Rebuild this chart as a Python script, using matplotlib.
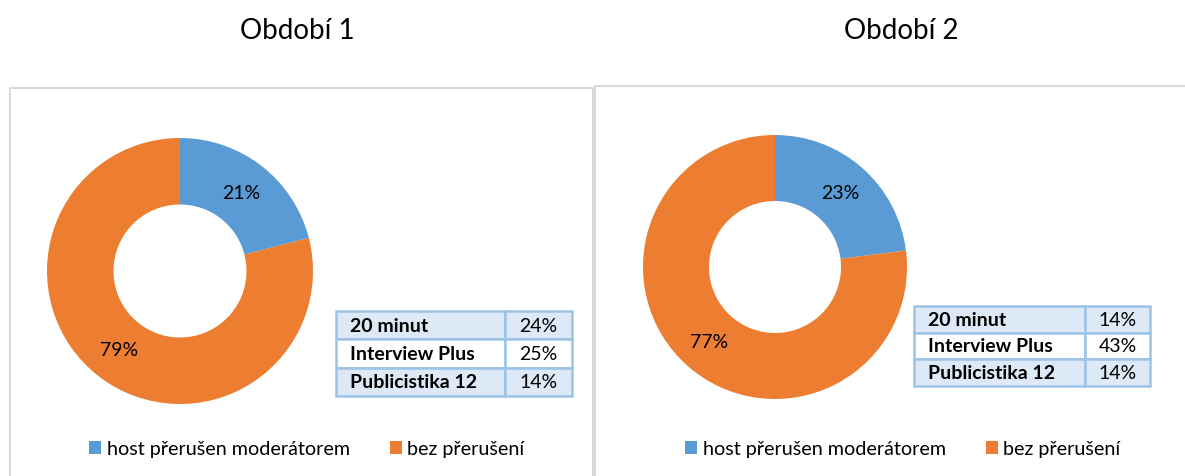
import matplotlib
matplotlib.use("Agg")
import matplotlib.pyplot as plt
from matplotlib.patches import Patch
from matplotlib.lines import Line2D

plt.rcParams['font.family'] = ['Lato', 'DejaVu Sans']

# ---- data ----
titles = ["Období 1", "Období 2"]
series_labels = ["host přerušen moderátorem", "bez přerušení"]
period1 = [21, 79]
period2 = [23, 77]
programs = ["20 minut", "Interview Plus", "Publicistika 12"]
table1 = ["24%", "25%", "14%"]
table2 = ["14%", "43%", "14%"]

colors = ["#5b9bd5", "#ed7d31"]
W, H = 1185, 477
fig = plt.figure(figsize=(W / 100, H / 100), dpi=100)

def fx(px):
    return px / W

def fy(py):
    return 1 - py / H

# overlay for frames and titles
ov = fig.add_axes([0, 0, 1, 1])
ov.set_xlim(0, W)
ov.set_ylim(H, 0)
ov.axis("off")
frame_c = "#d9d9d9"
ov.add_line(Line2D([10, 10, 593, 593], [H + 5, 89, 89, H + 5], color=frame_c, lw=1.5))
ov.add_line(Line2D([595, 595, W + 5], [H + 5, 87, 87], color=frame_c, lw=1.5))
ov.text(297, 31, titles[0], ha="center", va="center", fontsize=20, color="#000000")
ov.text(901, 31, titles[1], ha="center", va="center", fontsize=20, color="#000000")

def donut(cx, cy, r, vals):
    ax = fig.add_axes([fx(cx - r), fy(cy + r), fx(2 * r), (2 * r) / H])
    wedges, texts, autotexts = ax.pie(
        vals, colors=colors, startangle=90, counterclock=False, radius=1,
        wedgeprops=dict(width=0.5, edgecolor="none"),
        autopct="%1.0f%%", pctdistance=0.75,
        textprops=dict(fontsize=14, color="#000000"))
    ax.set_xlim(-1, 1)
    ax.set_ylim(-1, 1)
    ax.set_aspect("auto")
    ax.axis("off")
    return wedges

def make_table(x0, y0, x1, y1, xdiv, names, vals):
    ax = fig.add_axes([fx(x0), fy(y1), fx(x1 - x0), (y1 - y0) / H])
    ax.axis("off")
    cell_text = [[n, v] for n, v in zip(names, vals)]
    fills = ["#dde9f6", "#ffffff", "#dde9f6"]
    tb = ax.table(cellText=cell_text, bbox=[0, 0, 1, 1],
                  colWidths=[(xdiv - x0) / (x1 - x0), (x1 - xdiv) / (x1 - x0)])
    tb.auto_set_font_size(False)
    for (r, c), cell in tb.get_celld().items():
        cell.set_facecolor(fills[r])
        cell.set_edgecolor("#9dc3e6")
        cell.set_linewidth(1.8)
        cell.get_text().set_fontsize(14)
        if c == 0:
            cell.get_text().set_fontweight("bold")
            cell.get_text().set_ha("left")
            cell.PAD = 0.08
        else:
            cell.get_text().set_ha("center")
            cell._loc = "center"
    return tb

donut(180, 272, 133, period1)
donut(775, 268, 132, period2)
make_table(336, 312, 572, 397, 505, programs, table1)
make_table(914, 307, 1150, 387, 1085, programs, table2)

handles = [Patch(facecolor=c, edgecolor="none") for c in colors]
for cxl in (307, 903):
    fig.legend(handles, series_labels, loc="center", bbox_to_anchor=(fx(cxl), fy(450)),
               ncol=2, frameon=False, fontsize=14.2, handlelength=0.6, handleheight=0.6,
               handletextpad=0.3, columnspacing=2.0)

fig.savefig("out.png", dpi=100, facecolor="white")
